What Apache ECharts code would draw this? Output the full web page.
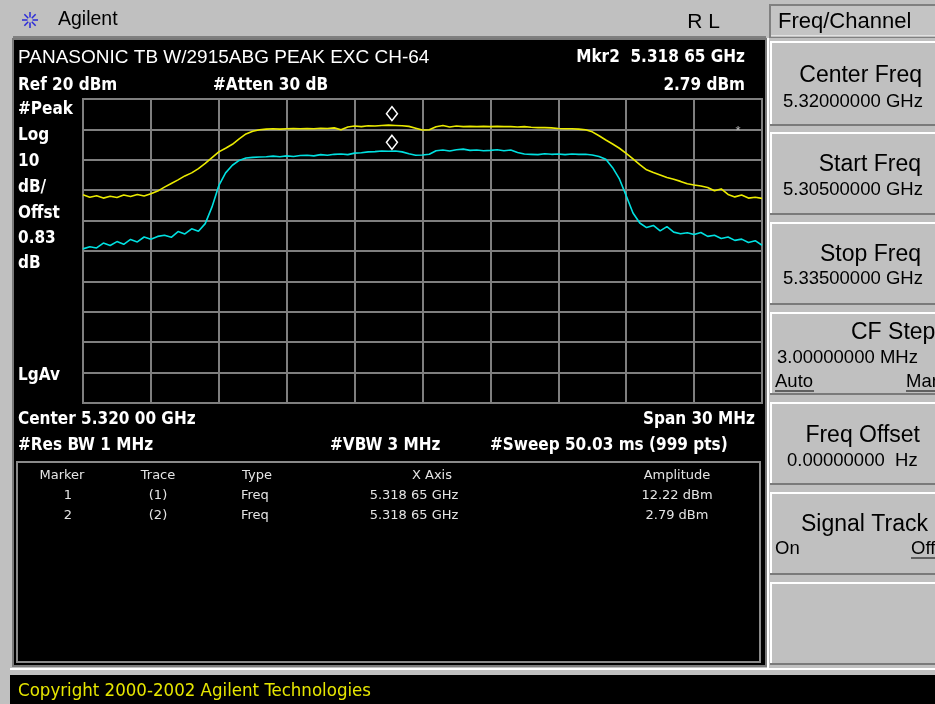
<!DOCTYPE html>
<html><head><meta charset="utf-8">
<script src="https://cdn.jsdelivr.net/npm/echarts@6/dist/echarts.min.js"></script>
<style>html,body{margin:0;padding:0;background:#c0c0c0;overflow:hidden}#c{width:935px;height:704px}</style>
</head><body><div id="c"></div>
<script>
// Sweep grid: offset from center (5.320 GHz), in MHz
const sweepStartMHz = -15;
const sweepStepMHz = 0.3;
// Trace 1 (yellow, peak) in dBm
const trace1 = [
 -11.5,-12.3,-11.8,-12.6,-12.0,-12.4,-11.6,-12.1,-11.4,-11.9,
 -11.2,-10.3,-9.0,-7.8,-6.6,-5.3,-4.3,-2.9,-1.2,0.7,
 2.6,3.8,5.1,6.9,8.5,9.4,9.9,10.1,10.2,10.1,
 10.2,10.3,10.2,10.3,10.2,10.4,10.3,10.5,9.9,10.8,
 11.1,10.9,11.2,11.1,11.3,11.4,11.3,11.2,11.0,10.4,
 9.8,9.9,10.9,11.3,10.8,11.1,10.9,11.0,10.9,11.0,
 10.9,11.0,10.9,10.9,10.8,10.9,10.7,10.6,10.6,10.5,
 10.3,10.2,10.2,10.1,9.9,9.2,7.9,6.5,5.2,3.8,
 2.1,0.3,-1.6,-3.3,-4.2,-5.0,-5.8,-6.4,-7.1,-7.9,
 -8.3,-8.6,-9.1,-10.2,-9.6,-11.4,-12.2,-11.6,-12.6,-12.3,
 -12.7
];
// Trace 2 (cyan, average) in dBm
const trace2 = [
 -29.3,-28.6,-29.0,-27.4,-28.2,-26.9,-27.8,-26.2,-27.0,-25.4,
 -26.1,-25.2,-24.8,-25.5,-23.6,-24.4,-22.7,-23.5,-21.0,-15.5,
 -8.5,-4.3,-1.8,-0.2,0.6,0.8,0.9,1.0,1.2,1.0,
 1.3,1.1,1.4,1.5,1.3,1.7,1.5,1.8,1.9,1.7,
 2.2,2.3,2.6,2.7,2.9,2.8,2.9,2.6,2.0,1.5,
 1.6,1.8,3.0,3.2,2.9,3.3,3.5,3.1,3.2,3.0,
 3.1,3.3,3.0,3.2,2.4,1.9,1.8,1.7,2.0,1.8,
 1.9,1.7,1.9,1.8,1.8,1.6,1.1,0.2,-2.6,-6.3,
 -11.8,-17.5,-20.8,-22.3,-21.6,-23.4,-22.0,-23.8,-24.3,-24.0,
 -24.6,-23.9,-25.2,-24.8,-25.9,-25.4,-26.5,-26.1,-27.2,-26.6,
 -28.1
];
const markerFreqMHz = -1.35;
const markerAmps = [12.22, 2.79];
const refLevel = 20, dbPerDiv = 10, spanMHz = 30;

const pairs = arr => arr.map((v, i) => [sweepStartMHz + i * sweepStepMHz, v]);

const NB = '"Liberation Sans Narrow","DejaVu Sans Condensed","Arial Narrow",sans-serif';
const RS = '"Liberation Sans",Arial,sans-serif';
function T(text, x, y, font, fill, align) {
  return {type:'text', z:20, style:{text, x, y, font, fill, textAlign:align||'left', align:align||'left', textVerticalAlign:'middle', verticalAlign:'middle'}};
}
function R(x, y, w, h, fill, stroke, lw, z) {
  return {type:'rect', z: z===undefined?-5:z, shape:{x,y,width:w,height:h}, style:{fill:fill||'none', stroke:stroke||'none', lineWidth:lw||0}};
}
function L(x1,y1,x2,y2,stroke,lw,z){
  return {type:'line', z: z===undefined?-4:z, shape:{x1,y1,x2,y2}, style:{stroke, lineWidth:lw||1}};
}

const g = [];
// screen
g.push(R(13, 39, 753, 627, '#000', '#7a7a7a', 2, -10));
g.push(L(13, 37, 766, 37, '#808080', 2, -9));
g.push(L(768, 38, 768, 670, '#ffffff', 2, -9));
// logo
const lc = [30, 20];
for (let k = 0; k < 8; k++) {
  const a = k * Math.PI / 4;
  g.push(L(lc[0] + Math.cos(a)*2.5, lc[1] + Math.sin(a)*2.5, lc[0] + Math.cos(a)*8, lc[1] + Math.sin(a)*8, '#2a2ad8', 1.5, 5));
}
g.push(T('Agilent', 58, 20, '19.5px ' + RS, '#000'));
g.push(T('R L', 720, 22, '21px ' + RS, '#000', 'right'));
// softkey header
g.push(R(770, 5, 170, 32, '#c4c4c4', '#808080', 2, -5));
g.push(L(771, 36, 935, 36, '#ffffff', 1, -4));
g.push(T('Freq/Channel', 778, 22, '22px ' + RS, '#000'));
// softkeys
const keys = [[41,126],[132,215],[222,305],[312,395],[402,485],[492,575],[582,665]];
keys.forEach(([a,b]) => {
  g.push(R(770, a, 170, b - a, '#c0c0c0', 'none', 0, -6));
  g.push(L(770, a+1, 935, a+1, '#ffffff', 2, -4));
  g.push(L(771, a, 771, b, '#ffffff', 2, -4));
  g.push(L(770, b-1, 935, b-1, '#7a7a7a', 2, -4));
});
const KT = '23px ' + RS, KV = '18.5px ' + RS;
g.push(T('Center Freq', 922, 76, KT, '#000', 'right'));
g.push(T('5.32000000 GHz', 783, 102, KV, '#000'));
g.push(T('Start Freq', 921, 165, KT, '#000', 'right'));
g.push(T('5.30500000 GHz', 783, 190, KV, '#000'));
g.push(T('Stop Freq', 921, 255, KT, '#000', 'right'));
g.push(T('5.33500000 GHz', 783, 279, KV, '#000'));
g.push(T('CF Step', 851, 333, KT, '#000'));
g.push(T('3.00000000 MHz', 777, 358, KV, '#000'));
g.push(T('Auto', 775, 382, KV, '#000'));
g.push(L(775, 391, 814, 391, '#000', 1, 5));
g.push(T('Man', 906, 382, KV, '#000'));
g.push(L(906, 391, 935, 391, '#000', 1, 5));
g.push(T('Freq Offset', 920, 436, KT, '#000', 'right'));
g.push(T('0.00000000  Hz', 787, 461, KV, '#000'));
g.push(T('Signal Track', 928, 525, KT, '#000', 'right'));
g.push(T('On', 775, 549, KV, '#000'));
g.push(T('Off', 911, 549, KV, '#000'));
g.push(L(911, 558, 935, 558, '#000', 1, 5));
// header texts
const HB = 'bold 17px ' + NB;
g.push(T('PANASONIC TB W/2915ABG PEAK EXC CH-64', 18, 58, '19px ' + RS, '#fff'));
g.push(T('Mkr2  5.318 65 GHz', 745, 58, HB, '#fff', 'right'));
g.push(T('Ref ' + refLevel + ' dBm', 18, 86, HB, '#fff'));
g.push(T('#Atten 30 dB', 213, 86, HB, '#fff'));
g.push(T(markerAmps[1].toFixed(2) + ' dBm', 745, 86, HB, '#fff', 'right'));
[['#Peak',110],['Log',136],['10',162],['dB/',188],['Offst',214],['0.83',239],['dB',264],['LgAv',376]].forEach(([t,y]) => g.push(T(t, 18, y, HB, '#fff')));
g.push(T('Center 5.320 00 GHz', 18, 420, HB, '#fff'));
g.push(T('Span ' + spanMHz + ' MHz', 755, 420, HB, '#fff', 'right'));
g.push(T('#Res BW 1 MHz', 18, 446, HB, '#fff'));
g.push(T('#VBW 3 MHz', 330, 446, HB, '#fff'));
g.push(T('#Sweep 50.03 ms (999 pts)', 490, 446, HB, '#fff'));
g.push(T('*', 738, 131, '13px ' + RS, '#bbbbbb', 'center'));
// marker table
g.push(R(17, 462, 743, 200, 'none', '#8a8a8a', 2, -3));
const TF = '13px "DejaVu Sans",sans-serif', TC = '#e4e4e4';
g.push(T('Marker', 62, 476, TF, TC, 'center'));
g.push(T('Trace', 158, 476, TF, TC, 'center'));
g.push(T('Type', 257, 476, TF, TC, 'center'));
g.push(T('X Axis', 432, 476, TF, TC, 'center'));
g.push(T('Amplitude', 677, 476, TF, TC, 'center'));
markerAmps.forEach((amp, i) => {
  const y = 496 + i * 20;
  g.push(T(String(i + 1), 68, y, TF, TC, 'center'));
  g.push(T('(' + (i + 1) + ')', 158, y, TF, TC, 'center'));
  g.push(T('Freq', 241, y, TF, TC));
  g.push(T('5.318 65 GHz', 414, y, TF, TC, 'center'));
  g.push(T(amp.toFixed(2) + ' dBm', 677, y, TF, TC, 'center'));
});
// copyright bar
g.push(L(10, 669, 935, 669, '#ffffff', 2, -9));
g.push(R(10, 675, 925, 29, '#000', 'none', 0, -10));
g.push(T('Copyright 2000-2002 Agilent Technologies', 18, 691, '18.5px ' + NB, '#e6e600'));

const gridLine = {show:true, lineStyle:{color:'#7f7f7f', width:2}};
const mk = (amp) => ({
  symbol:'diamond', symbolSize:[11,14], symbolOffset:[0,-9], silent:true, animation:false,
  itemStyle:{color:'#000', borderColor:'#ffffff', borderWidth:1.5},
  label:{show:false},
  data:[{coord:[markerFreqMHz, amp]}]
});

const chart = echarts.init(document.getElementById('c'), null, {renderer:'canvas'});
chart.setOption({
  backgroundColor:'#c0c0c0',
  animation:false,
  graphic:{elements:g},
  grid:{left:83, top:99, width:679, height:304, show:true, borderColor:'#7f7f7f', borderWidth:2, backgroundColor:'transparent', containLabel:false},
  xAxis:{type:'value', min:sweepStartMHz, max:sweepStartMHz + spanMHz, interval:3, axisLine:{show:false}, axisTick:{show:false}, axisLabel:{show:false}, splitLine:gridLine},
  yAxis:{type:'value', min:refLevel - 10*dbPerDiv, max:refLevel, interval:dbPerDiv, axisLine:{show:false}, axisTick:{show:false}, axisLabel:{show:false}, splitLine:gridLine},
  series:[
    {type:'line', data:pairs(trace1), showSymbol:false, lineStyle:{color:'#eaea00', width:1.6}, z:3, markPoint:mk(markerAmps[0])},
    {type:'line', data:pairs(trace2), showSymbol:false, lineStyle:{color:'#00e0e0', width:1.6}, z:3, markPoint:mk(markerAmps[1])}
  ]
});
</script></body></html>
